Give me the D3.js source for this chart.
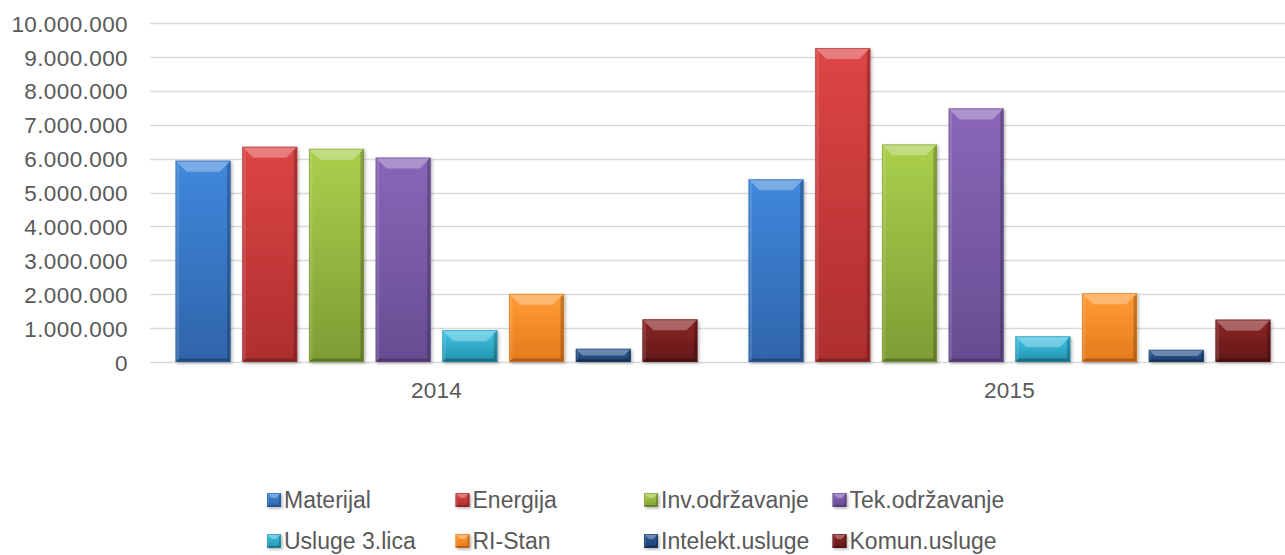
<!DOCTYPE html>
<html>
<head>
<meta charset="utf-8">
<script src="https://cdn.jsdelivr.net/npm/d3@7"></script>
<style>
html,body{margin:0;padding:0;background:#fff;}
svg{display:block;font-family:"Liberation Sans",Arial,sans-serif;}
</style>
</head>
<body>
<svg id="chart" width="1285" height="555"></svg>
<script>
const years = ["2014", "2015"];
const seriesNames = ["Materijal", "Energija", "Inv.održavanje", "Tek.održavanje", "Usluge 3.lica", "RI-Stan", "Intelekt.usluge", "Komun.usluge"];
const values2014 = [5940000, 6350000, 6290000, 6030000, 940000, 2010000, 390000, 1260000];
const values2015 = [5390000, 9260000, 6420000, 7480000, 760000, 2030000, 360000, 1250000];
const yTicks = [0, 1000000, 2000000, 3000000, 4000000, 5000000, 6000000, 7000000, 8000000, 9000000, 10000000];
const colorsTop = ["#4088dc", "#de4545", "#a9d04c", "#8a66b8", "#3fc6e6", "#ff9c34", "#2f609e", "#8c2626"];
const colorsBottom = ["#2f64aa", "#ad2e2e", "#7e9c35", "#664d92", "#2290ad", "#e57a1c", "#1d3d6c", "#621818"];

const data = years.map((y, i) => ({year: y, vals: i === 0 ? values2014 : values2015}));

const svg = d3.select("#chart");
const defs = svg.append("defs");

seriesNames.forEach((s, i) => {
  const g = defs.append("linearGradient").attr("id", "grad" + i)
    .attr("x1", 0).attr("y1", 0).attr("x2", 0).attr("y2", 1);
  g.append("stop").attr("offset", "0%").attr("stop-color", colorsTop[i]);
  g.append("stop").attr("offset", "100%").attr("stop-color", colorsBottom[i]);
});
const f = defs.append("filter").attr("id", "shadow").attr("x", "-20%").attr("y", "-20%").attr("width", "140%").attr("height", "140%");
f.append("feDropShadow").attr("dx", 1.5).attr("dy", 1.5).attr("stdDeviation", 1.8).attr("flood-color", "#000").attr("flood-opacity", 0.3);

const y = d3.scaleLinear().domain([0, 10000000]).range([362, 23]);
const x0 = d3.scaleBand().domain(years).range([150, 1296]).paddingInner(0).paddingOuter(0);
const x1 = d3.scaleBand().domain(seriesNames).range([0, x0.bandwidth()]).paddingInner(0.1756).paddingOuter(0.383);

const fmt = v => d3.format(",")(v).replace(/,/g, ".");

// gridlines
svg.append("g").selectAll("line").data(yTicks).join("line")
  .attr("x1", 150).attr("x2", 1285)
  .attr("y1", d => Math.round(y(d)) + 0.5).attr("y2", d => Math.round(y(d)) + 0.5)
  .attr("stroke", "#d9d9d9").attr("stroke-width", 1.6);

const yAxis = d3.axisLeft(y).tickValues(yTicks).tickSize(0).tickPadding(0).tickFormat(fmt);
const gy = svg.append("g").attr("transform", "translate(128,0)").call(yAxis);
gy.select(".domain").remove();
gy.selectAll("text").attr("font-size", 22.5).attr("fill", "#595959").attr("dy", "0.36em")
  .attr("font-family", "'Liberation Sans',Arial,sans-serif").attr("letter-spacing", "0.4px");

// x labels
const xAxis = d3.axisBottom(x0).tickSize(0).tickPadding(0);
const gx = svg.append("g").attr("transform", "translate(0,390)").call(xAxis);
gx.select(".domain").remove();
gx.selectAll("text").attr("font-size", 22.5).attr("fill", "#595959").attr("dy", "0.36em")
  .attr("font-family", "'Liberation Sans',Arial,sans-serif").attr("letter-spacing", "0.3px");

function bevelBar(g, x, yTop, w, h, i, bmax) {
  const b = Math.min(bmax, h / 2, w / 2);
  const e = Math.min(b * 0.4, 3.5);
  const yb = yTop + h;
  const bar = g.append("g");
  bar.append("rect").attr("x", x).attr("y", yTop).attr("width", w).attr("height", h)
    .attr("fill", `url(#grad${i})`).attr("filter", "url(#shadow)");
  bar.append("polygon").attr("points", [[x, yTop], [x + w, yTop], [x + w - b, yTop + b], [x + b, yTop + b]].join(" "))
    .attr("fill", "#fff").attr("opacity", 0.3);
  bar.append("polygon").attr("points", [[x, yTop], [x + e, yTop + e], [x + e, yb - e], [x, yb]].join(" "))
    .attr("fill", "#fff").attr("opacity", 0.12);
  bar.append("polygon").attr("points", [[x + w, yTop], [x + w - e, yTop + e], [x + w - e, yb - e], [x + w, yb]].join(" "))
    .attr("fill", "#000").attr("opacity", 0.22);
  bar.append("polygon").attr("points", [[x, yb], [x + w, yb], [x + w - e, yb - e], [x + e, yb - e]].join(" "))
    .attr("fill", "#000").attr("opacity", 0.25);
  bar.append("rect").attr("x", x + 0.5).attr("y", yTop + 0.5).attr("width", w - 1).attr("height", h - 1)
    .attr("fill", "none").attr("stroke", colorsBottom[i]).attr("stroke-opacity", 0.6).attr("stroke-width", 1);
}

const gBars = svg.append("g");
data.forEach(d => {
  const gg = gBars.append("g").attr("transform", `translate(${x0(d.year)},0)`);
  d.vals.forEach((v, i) => {
    const s = seriesNames[i];
    bevelBar(gg, x1(s), y(v), x1.bandwidth(), y(0) - y(v), i, 11);
  });
});

// legend
const legendCols = 4;
const legX = 267, legColW = 188.5, legRows = [500, 541];
const leg = svg.append("g");
seriesNames.forEach((s, i) => {
  const cx = legX + (i % legendCols) * legColW;
  const cy = legRows[Math.floor(i / legendCols)];
  const g = leg.append("g");
  bevelBar(g, cx, cy - 7, 14, 14, i, 5);
  g.append("text").attr("x", cx + 17).attr("y", cy).attr("dy", "0.36em")
    .attr("font-size", 23).attr("fill", "#595959").text(s);
});
</script>
</body>
</html>
